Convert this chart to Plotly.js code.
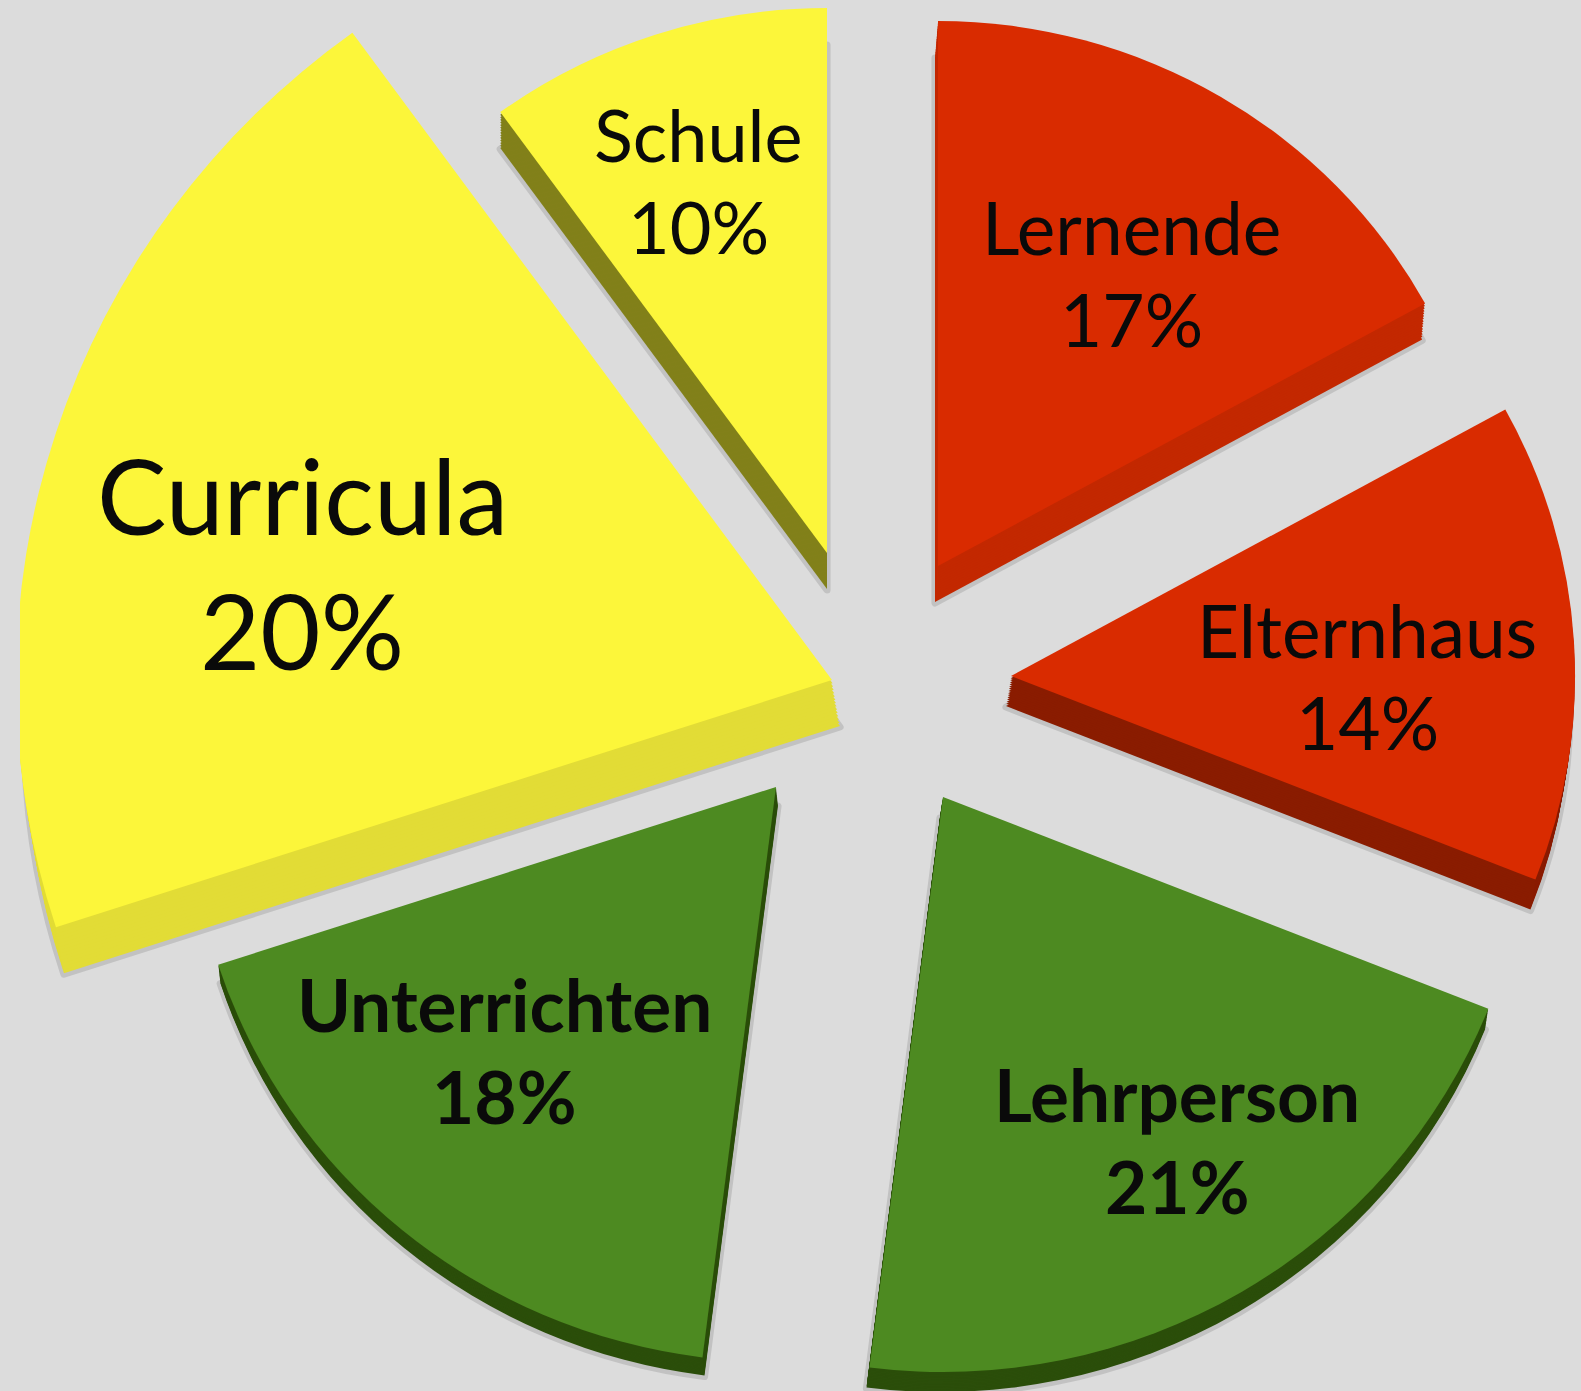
<!DOCTYPE html>
<html><head><meta charset="utf-8">
<script src="https://cdn.plot.ly/plotly-3.0.1.min.js"></script>
<style>html,body{margin:0;padding:0;background:#dcdcdc;overflow:hidden}
#wrap{position:relative;width:1581px;height:1391px;overflow:hidden}
#chart{position:absolute;left:0;top:0;width:2000px;height:2000px;transform-origin:0 0;transform:scale(1.02,1) translate(-200px,-300px)}
#labels{position:absolute;left:0;top:0;width:1581px;height:1391px}</style>
</head><body><div id="wrap"><div id="chart"></div><div id="labels"></div></div>
<script>
const categories = ['Lernende','Elternhaus','Lehrperson','Unterrichten','Curricula','Schule'];
const shares = [17,14,21,18,20,10];

const faceColors = ['#d92b00','#d92b00','#4d8a21','#4d8a21','#fcf63a','#fcf63a'];
const sideColors = ['#c32800','#8a1c00','#2b4e0a','#2b4e0a','#e2dc36','#82801a'];
const tipX = [938,1011,943,776,832,827];
const tipY = [566,676,797,787,680,553];
const radius = [545,553,575,575,800,545];
const depthX = [-3,-5,-3,2,8,0];
const depthY = [36,30,20,18,46,36];
const labelX = [1131,1367,1177,504,302,698];
const nameY = [227,630,1094,1004,495,134];
const fontSize = [73,73,73,73,104,72];
const lineGap = [92,92,92,92,134,92];
const bold = [false,false,true,true,false,false];

const FW = 2000, OX = -200, OY = -300, SX = 1.02, BG = '#dcdcdc';
const W = 1581, H = 1391;
const fy = p => 1 - (p - OY) / FW;

function wedge(i, dx, dy, color, lineColor, lineWidth) {
  const before = shares.slice(0, i).reduce((a, b) => a + b, 0);
  const cx = (tipX[i] + dx) / SX, cy = tipY[i] + dy, r = radius[i];
  return {
    type: 'pie', sort: false, direction: 'clockwise',
    values: [shares[i], 100 - shares[i]],
    labels: [categories[i], 'rest'],
    rotation: before * 3.6,
    textinfo: 'none', textposition: 'none', hoverinfo: 'skip',
    showlegend: false,
    domain: { x: [(cx - r - OX) / FW, (cx + r - OX) / FW], y: [fy(cy + r), fy(cy - r)] },
    marker: { colors: [color, 'rgba(0,0,0,0)'],
      line: { color: [lineColor, 'rgba(0,0,0,0)'], width: [lineWidth, 0] } }
  };
}

const traces = [];
categories.forEach((c, i) => {
  traces.push(wedge(i, depthX[i], depthY[i] + 1, '#b4b4b4', '#c2c2c2', 7));
});
categories.forEach((c, i) => {
  const steps = 14;
  for (let s = steps; s >= 1; s--) {
    traces.push(wedge(i, depthX[i] * s / steps, depthY[i] * s / steps, sideColors[i], sideColors[i], 0));
  }
  traces.push(wedge(i, 0, 0, faceColors[i], faceColors[i], 0));
});

const annotations = [];
categories.forEach((c, i) => {
  const font = { family: 'Lato, Carlito, sans-serif', size: fontSize[i], color: '#0a0a0a' };
  const mk = (t, y) => ({ text: bold[i] ? '<b>' + t + '</b>' : t, xref: 'paper', yref: 'paper',
    x: labelX[i] / W, y: 1 - y / H, xanchor: 'center', yanchor: 'middle', showarrow: false, font });
  annotations.push(mk(c, nameY[i]), mk(shares[i] + '%', nameY[i] + lineGap[i]));
});

Plotly.newPlot('chart', traces, {
  width: FW, height: FW, margin: { l: 0, r: 0, t: 0, b: 0 },
  paper_bgcolor: BG, plot_bgcolor: BG, showlegend: false
}, { displayModeBar: false, staticPlot: true });

Plotly.newPlot('labels', [], {
  width: W, height: H, margin: { l: 0, r: 0, t: 0, b: 0 },
  paper_bgcolor: 'rgba(0,0,0,0)', plot_bgcolor: 'rgba(0,0,0,0)',
  xaxis: { visible: false }, yaxis: { visible: false }, annotations,
  shapes: [{ type: 'rect', xref: 'paper', yref: 'paper', layer: 'below',
    x0: 0, x1: 20 / W, y0: 0, y1: 1, fillcolor: BG, line: { width: 0 } }]
}, { displayModeBar: false, staticPlot: true });
</script></body></html>
